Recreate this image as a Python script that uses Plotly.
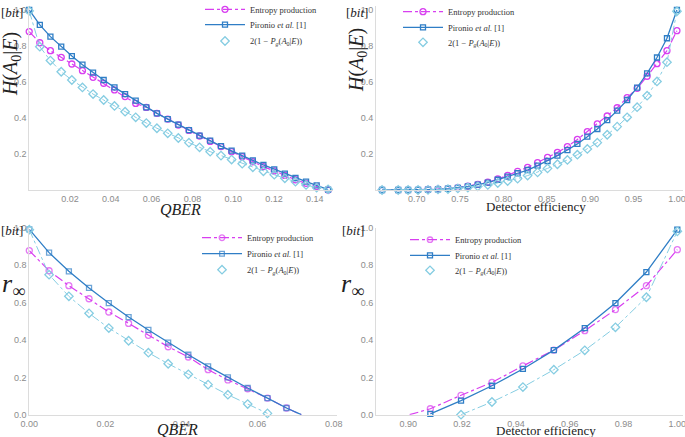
import plotly.graph_objects as go

# ---------------- data ----------------
# Top-left: H(A0|E) vs QBER
qber_tl = [0.0, 0.0052, 0.0104, 0.0157, 0.0209, 0.0261, 0.0313, 0.0365, 0.0418, 0.0470,
           0.0522, 0.0574, 0.0626, 0.0679, 0.0731, 0.0783, 0.0835, 0.0887, 0.0940, 0.0992,
           0.1044, 0.1096, 0.1148, 0.1201, 0.1253, 0.1305, 0.1357, 0.1409, 0.1465]
ent_tl = [0.880, 0.818, 0.774, 0.737, 0.700, 0.663, 0.626, 0.593, 0.556, 0.519,
          0.481, 0.459, 0.426, 0.394, 0.361, 0.331, 0.300, 0.270, 0.241, 0.213,
          0.185, 0.157, 0.130, 0.106, 0.081, 0.057, 0.037, 0.019, 0.000]
pir_tl = [1.000, 0.917, 0.852, 0.796, 0.744, 0.696, 0.652, 0.611, 0.570, 0.533,
          0.496, 0.459, 0.426, 0.394, 0.363, 0.333, 0.302, 0.274, 0.244, 0.219,
          0.191, 0.165, 0.139, 0.115, 0.091, 0.067, 0.046, 0.026, 0.002]
pg_tl = [0.995, 0.796, 0.719, 0.657, 0.611, 0.570, 0.533, 0.500, 0.467, 0.435,
         0.404, 0.372, 0.343, 0.315, 0.289, 0.263, 0.237, 0.213, 0.191, 0.169,
         0.146, 0.126, 0.104, 0.085, 0.065, 0.046, 0.028, 0.013, 0.004]

# Top-right: H(A0|E) vs detector efficiency
eff_tr = [0.6600, 0.6786, 0.6900, 0.7015, 0.7130, 0.7245, 0.7360, 0.7474, 0.7589, 0.7704,
          0.7819, 0.7934, 0.8048, 0.8163, 0.8278, 0.8393, 0.8508, 0.8622, 0.8737, 0.8852,
          0.8967, 0.9082, 0.9196, 0.9311, 0.9426, 0.9541, 0.9656, 0.9770, 0.9885, 1.0000]
ent_tr = [0.000, 0.000, 0.000, 0.001, 0.003, 0.005, 0.008, 0.013, 0.021, 0.031,
          0.043, 0.061, 0.081, 0.104, 0.126, 0.152, 0.181, 0.209, 0.241, 0.281,
          0.324, 0.367, 0.411, 0.457, 0.513, 0.565, 0.632, 0.702, 0.774, 0.885]
pir_tr = [0.000, 0.000, 0.000, 0.001, 0.002, 0.004, 0.007, 0.012, 0.020, 0.030,
          0.041, 0.057, 0.074, 0.093, 0.111, 0.135, 0.161, 0.191, 0.222, 0.256,
          0.296, 0.339, 0.388, 0.441, 0.500, 0.569, 0.648, 0.736, 0.843, 1.000]
pg_tr = [0.000, 0.000, 0.000, 0.000, 0.001, 0.003, 0.005, 0.009, 0.014, 0.020,
         0.028, 0.039, 0.050, 0.063, 0.080, 0.098, 0.120, 0.143, 0.167, 0.196,
         0.228, 0.263, 0.307, 0.352, 0.404, 0.460, 0.524, 0.603, 0.710, 0.993]

# Bottom-left: r_inf vs QBER
qber_bl = [0.0, 0.0052, 0.0104, 0.0157, 0.0209, 0.0261, 0.0313, 0.0365, 0.0418, 0.0470,
           0.0522, 0.0574, 0.0626, 0.0676, 0.0715]
ent_bl = [0.879, 0.771, 0.691, 0.621, 0.550, 0.489, 0.425, 0.364, 0.309, 0.241,
          0.186, 0.139, 0.089, 0.036, 0.000]
pir_bl = [0.993, 0.868, 0.768, 0.679, 0.598, 0.523, 0.454, 0.386, 0.321, 0.259,
          0.200, 0.143, 0.089, 0.036, 0.000]
pg_bl = [0.991, 0.750, 0.634, 0.543, 0.464, 0.396, 0.332, 0.273, 0.216, 0.161,
         0.107, 0.057, 0.007]

# Bottom-right: r_inf vs detector efficiency
eff_br = [0.9005, 0.9082, 0.9196, 0.9311, 0.9426, 0.9541, 0.9656, 0.9770, 0.9885, 1.0000]
ent_br = [0.000, 0.032, 0.104, 0.173, 0.261, 0.346, 0.450, 0.563, 0.691, 0.884]
pir_br = [None, 0.004, 0.075, 0.155, 0.245, 0.346, 0.464, 0.598, 0.764, 0.991]
pg_br = [None, None, 0.000, 0.068, 0.148, 0.241, 0.345, 0.468, 0.629, 0.982]

names = ["Entropy production",
         "Pironio <i>et al.</i> [1]",
         "2(1 \u2212 <i>P<sub>g</sub></i>(<i>A</i><sub>0</sub>|<i>E</i>))"]

PINK = "#d83ff0"
BLUE = "#2f7ec6"
CYAN = "#86cde2"

W, H = 685, 437
SERIF = "Liberation Serif"


def py(p):
    return 1 - p / H


fig = go.Figure()
legend_counter = [0]


def next_legend():
    legend_counter[0] += 1
    n = legend_counter[0]
    return "legend" if n == 1 else "legend%d" % n


def add_panel(idx, x, ent, pir, pg, ent_sizes=None, pir_sizes=None):
    ax = "" if idx == 1 else str(idx)
    xa, ya = "x" + ax, "y" + ax
    fig.add_trace(go.Scatter(
        x=x, y=ent, mode="lines+markers", name=names[0], xaxis=xa, yaxis=ya, legend=next_legend(),
        line=dict(color=PINK, width=1.2, dash="dashdot"),
        marker=dict(symbol="circle-open", size=ent_sizes or 6, color=PINK, line=dict(width=1.3)),
        cliponaxis=False))
    fig.add_trace(go.Scatter(
        x=x, y=pir, mode="lines+markers", name=names[1], xaxis=xa, yaxis=ya, legend=next_legend(),
        line=dict(color=BLUE, width=1.3),
        marker=dict(symbol="square-open", size=pir_sizes or 5, color=BLUE, line=dict(width=1.3)),
        cliponaxis=False))
    fig.add_trace(go.Scatter(
        x=x[:len(pg)], y=pg, mode="lines", xaxis=xa, yaxis=ya, showlegend=False,
        line=dict(color=CYAN, width=1.0, dash="dashdot"), cliponaxis=False, hoverinfo="skip"))
    fig.add_trace(go.Scatter(
        x=x[:len(pg)], y=pg, mode="markers", name=names[2], xaxis=xa, yaxis=ya, legend=next_legend(),
        marker=dict(symbol="diamond-open", size=6.5, color=CYAN, line=dict(width=1.3)),
        cliponaxis=False))


add_panel(1, qber_tl, ent_tl, pir_tl, pg_tl)
add_panel(2, eff_tr, ent_tr, pir_tr, pg_tr)
add_panel(3, qber_bl, ent_bl, pir_bl, pg_bl,
          ent_sizes=[6] * (len(qber_bl) - 1) + [0], pir_sizes=[5] * (len(qber_bl) - 1) + [0])
add_panel(4, eff_br, ent_br, pir_br, pg_br,
          ent_sizes=[0] + [6] * (len(eff_br) - 1))

tickfont = dict(family="Liberation Sans", size=9, color="#8c8c8c")
axcommon = dict(showgrid=False, zeroline=False, showline=True, linecolor="#dcdcdc",
                linewidth=1, ticks="", tickfont=tickfont, ticklabeloverflow="allow")

fig.update_layout(
    width=W, height=H, margin=dict(l=0, r=0, t=0, b=0, pad=0, autoexpand=False),
    paper_bgcolor="white", plot_bgcolor="white", showlegend=True,
    xaxis=dict(domain=[29.2 / W, 333.2 / W], range=[0, 0.149],
               tickvals=[0.02, 0.04, 0.06, 0.08, 0.10, 0.12, 0.14], tickformat=".2f", anchor="y", **axcommon),
    yaxis=dict(domain=[py(190), py(190 - 1.02 * 180)], range=[0, 1.02],
               tickvals=[0.2, 0.4, 0.6, 0.8, 1.0], tickformat=".1f", anchor="x", **axcommon),
    xaxis2=dict(domain=[376 / W, 683 / W], range=[0.653, 1.007],
                tickvals=[0.70, 0.75, 0.80, 0.85, 0.90, 0.95, 1.00], tickformat=".2f", anchor="y2", **axcommon),
    yaxis2=dict(domain=[py(190), py(190 - 1.02 * 180)], range=[0, 1.02],
                tickvals=[0.2, 0.4, 0.6, 0.8, 1.0], tickformat=".1f", anchor="x2", **axcommon),
    xaxis3=dict(domain=[29.3 / W, 336.7 / W], range=[0, 0.0808],
                tickvals=[0.0, 0.02, 0.04, 0.06, 0.08], tickformat=".2f", anchor="y3", **axcommon),
    yaxis3=dict(domain=[py(414.7), py(228)], range=[0, 1.0],
                tickvals=[0.0, 0.2, 0.4, 0.6, 0.8, 1.0], tickformat=".1f", anchor="x3", **axcommon),
    xaxis4=dict(domain=[376 / W, 682.7 / W], range=[0.888, 1.002],
                tickvals=[0.90, 0.92, 0.94, 0.96, 0.98, 1.00], tickformat=".2f", anchor="y4", **axcommon),
    yaxis4=dict(domain=[py(414.7), py(228)], range=[0, 1.0],
                tickvals=[0.0, 0.2, 0.4, 0.6, 0.8, 1.0], tickformat=".1f", anchor="x4", **axcommon),
)

# one legend box per entry so that rows can sit as tightly as in the reference
legfont = dict(family=SERIF, size=8.5, color="#333333")
panel_legends = [(205, [10.3, 25.7, 42.0]), (403, [12.7, 28.3, 43.3]),
                 (202, [238.7, 254.7, 270.7]), (410, [240.7, 256.3, 271.3])]
n = 0
for sx, rows in panel_legends:
    for ry in rows:
        n += 1
        key = "legend" if n == 1 else "legend%d" % n
        fig.update_layout({key: dict(x=(sx - 5) / W, y=py(ry - 15.5), xanchor="left", yanchor="top",
                                     bgcolor="rgba(0,0,0,0)", font=legfont, itemwidth=40)})

ann = []


def text(xp, yp, s, size, angle=0):
    ann.append(dict(x=xp / W, y=py(yp), xref="paper", yref="paper", text=s, showarrow=False,
                    textangle=angle, xanchor="center", yanchor="middle",
                    font=dict(family=SERIF, size=size, color="#222222")))


Hlab = "<i>H</i>(<i>A</i><sub>0</sub>|<i>E</i>)"
rlab = "<i>r</i><sub>\u221e</sub>"
bit = "[<i>bit</i>]"
text(12, 64, Hlab, 20, -90)
text(357, 60, Hlab, 20, -90)
text(12, 12, bit, 13)
text(357, 12, bit, 13)
text(12, 230, bit, 13)
text(353, 230, bit, 13)
text(13, 285, rlab, 26)
text(353, 285, rlab, 26)
text(180, 209, "<i>QBER</i>", 16)
text(177, 429, "<i>QBER</i>", 16)
text(536, 206, "Detector efficiency", 13)
text(546, 430, "Detector efficiency", 13)
fig.update_layout(annotations=ann)

fig.write_html("out.html", config={"displayModeBar": False},
               post_script="document.body.style.margin='0';document.body.style.overflow='hidden';")
